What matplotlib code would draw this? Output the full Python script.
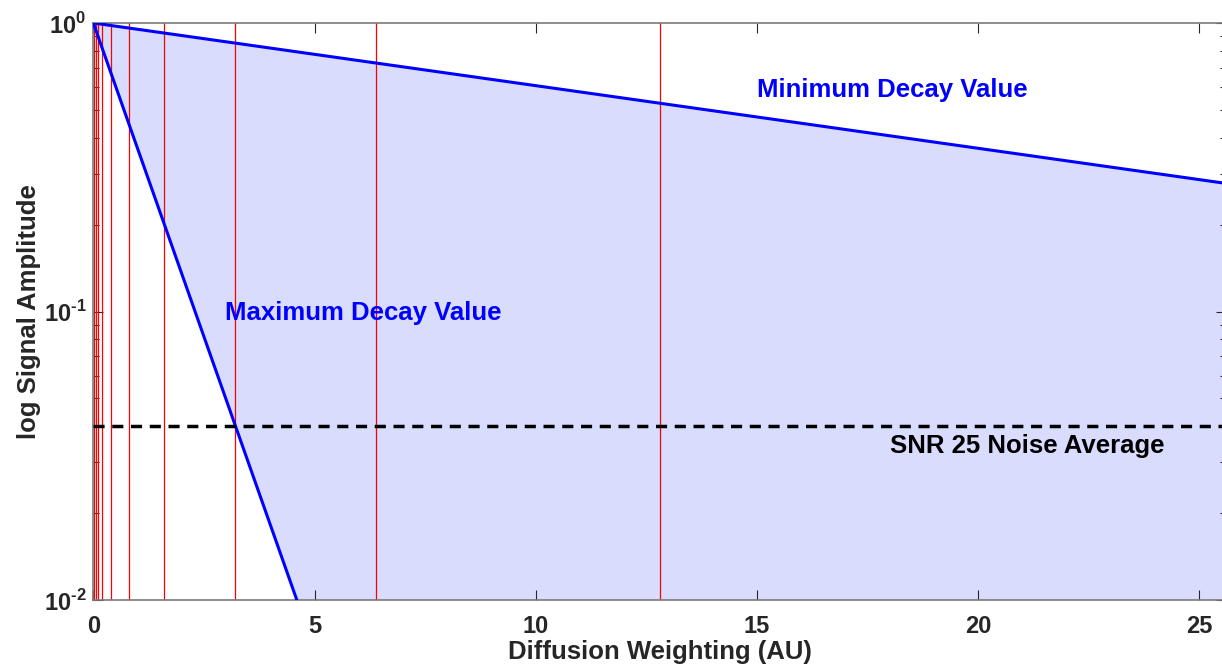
import matplotlib
matplotlib.use("Agg")
import matplotlib.pyplot as plt
from matplotlib.ticker import FixedLocator, LogLocator, NullFormatter

plt.rcParams['font.family'] = ['Liberation Sans', 'DejaVu Sans']
plt.rcParams['mathtext.fontset'] = 'custom'
plt.rcParams['mathtext.rm'] = 'Liberation Sans:bold'
plt.rcParams['mathtext.bf'] = 'Liberation Sans:bold'

# sampled diffusion weightings (red lines)
b_values = [0.025, 0.05, 0.1, 0.2, 0.4, 0.8, 1.6, 3.2, 6.4, 12.8]

# decay curves (straight on log axis, endpoints)
min_decay_b = [0.0, 25.6]
min_decay_y = [1.0, 0.278]
max_decay_b = [0.0, 4.6]
max_decay_y = [1.0, 0.01]

noise_level = 0.04
x_limits = [0, 25.6]
y_limits = [0.01, 1.0]
x_ticks = [0, 5, 10, 15, 20, 25]
y_ticks = [0.01, 0.1, 1.0]
y_tick_labels = [r'$10^{\text{-}2}$', r'$10^{\text{-}1}$', r'$10^{0}$']

fig = plt.figure(figsize=(12.22, 6.71), dpi=100)
ax = fig.add_axes([93.3 / 1222, 1 - 600 / 671, (1226 - 93.3) / 1222, (600 - 23) / 671])

# shaded region between the two decays
poly_x = min_decay_b + [x_limits[1]] + max_decay_b[::-1]
poly_y = min_decay_y + [y_limits[0]] + max_decay_y[::-1]
ax.fill(poly_x, poly_y, color='#d9dcfd', lw=0, zorder=1)

for b in b_values:
    ax.axvline(b, color='red', lw=0.9, zorder=2)

ax.plot(min_decay_b, min_decay_y, color='#0000ff', lw=2.2, zorder=3)
ax.plot(max_decay_b, max_decay_y, color='#0000ff', lw=2.2, zorder=3)
ax.axhline(noise_level, color='black', lw=2.5, ls=(0, (3.2, 2.2)), zorder=4)

ax.set_yscale('log')
ax.set_xlim(x_limits)
ax.set_ylim(y_limits)
ax.xaxis.set_major_locator(FixedLocator(x_ticks))
ax.yaxis.set_major_locator(FixedLocator(y_ticks))
ax.set_yticklabels(y_tick_labels)
ax.yaxis.set_minor_locator(LogLocator(base=10, subs=range(2, 10)))
ax.yaxis.set_minor_formatter(NullFormatter())
ax.set_xticklabels([str(t) for t in x_ticks])

ax.tick_params(which='both', direction='in', top=True, right=True,
               colors='#262626', labelsize=17)
ax.tick_params(which='major', length=7, width=0.8, pad=5)
ax.tick_params(axis='x', which='major', pad=11)
ax.tick_params(which='minor', length=4, width=0.8)
for lab in ax.get_xticklabels():
    lab.set_fontweight('bold')

for s in ax.spines.values():
    s.set_color('#7a7a7a')
    s.set_linewidth(1.2)

ax.set_xlabel('Diffusion Weighting (AU)', fontsize=18.5, fontweight='bold',
              color='#262626', labelpad=1)
ax.set_ylabel('log Signal Amplitude', fontsize=18.5, fontweight='bold',
              color='#262626', labelpad=2)

ax.text(18.05, 0.585, 'Minimum Decay Value', color='#0000ff', fontsize=18.5,
        fontweight='bold', ha='center', va='center')
ax.text(6.1, 0.0985, 'Maximum Decay Value', color='#0000ff', fontsize=18.5,
        fontweight='bold', ha='center', va='center')
ax.text(21.1, 0.0342, 'SNR 25 Noise Average', color='black', fontsize=18.5,
        fontweight='bold', ha='center', va='center')

fig.savefig('out.png', dpi=100)
